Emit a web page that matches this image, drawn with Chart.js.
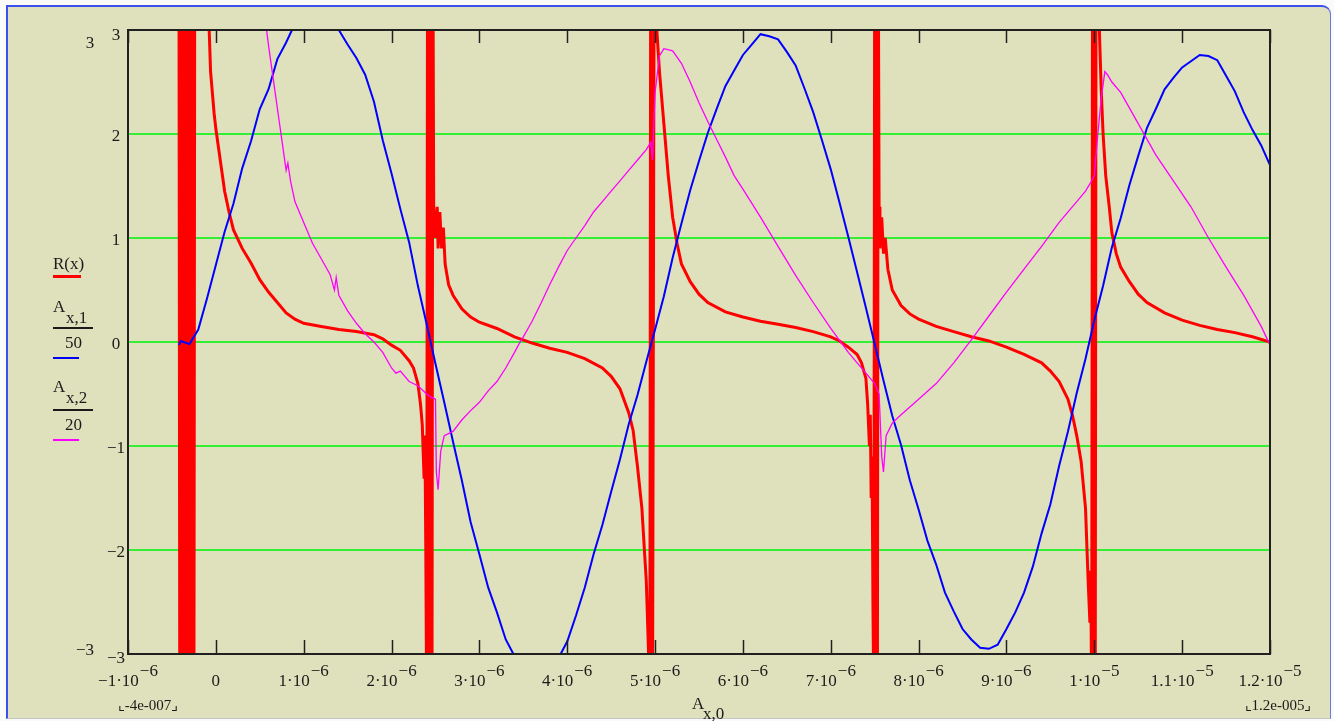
<!DOCTYPE html>
<html>
<head>
<meta charset="utf-8">
<script src="https://cdn.jsdelivr.net/npm/chart.js@4.4.1/dist/chart.umd.min.js"></script>
<style>
  body { margin: 0; background: #fafafa; width: 1334px; height: 721px; overflow: hidden; position: relative; }
  #frame { position: absolute; left: 6px; top: 5px; width: 1322px; height: 711px; background: #dfe0bc;
           border-left: 2px solid #3b4ff0; border-top: 2px solid #3b4ff0; border-right: 1px solid #6a78e6;
           border-bottom: 1px solid #c4c4c4; border-top-right-radius: 9px; }
  #wrap { position: absolute; left: 0; top: 0; width: 1334px; height: 721px; }
</style>
</head>
<body>
<div id="frame"></div>
<div id="wrap"><canvas id="plot" width="1334" height="721"></canvas></div>
<script>
// x values are in units of 10^-6
var xTickVals = [-1, 0, 1, 2, 3, 4, 5, 6, 7, 8, 9, 10, 11, 12];
var xTickText = ['\u22121\u00b710', '0', '1\u00b710', '2\u00b710', '3\u00b710', '4\u00b710', '5\u00b710', '6\u00b710', '7\u00b710', '8\u00b710', '9\u00b710', '1\u00b710', '1.1\u00b710', '1.2\u00b710'];
var xTickExp = ['\u22126', '', '\u22126', '\u22126', '\u22126', '\u22126', '\u22126', '\u22126', '\u22126', '\u22126', '\u22126', '\u22125', '\u22125', '\u22125'];
var yTickVals = [3, 2, 1, 0, -1, -2, -3];
var yTickText = ['3', '2', '1', '0', '\u22121', '\u22122', '\u22123'];

// R(x)
var rX = [-0.42, -0.41, -0.40, -0.39, -0.38, -0.37, -0.36, -0.35, -0.34, -0.33, -0.32, -0.31, -0.30, -0.29, -0.28, -0.27, -0.26, -0.25, -0.24, -0.23,
          -0.08, -0.06, -0.04, -0.02, 0, 0.05, 0.1, 0.15, 0.2, 0.3, 0.4, 0.5, 0.6, 0.7, 0.8, 0.9, 1.0, 1.2, 1.4, 1.6, 1.8, 1.9, 2.0, 2.1, 2.2, 2.25, 2.3, 2.33, 2.35, 2.37, 2.38, 2.39, 2.40,
          2.41, 2.42, 2.43, 2.44, 2.45, 2.46, 2.47,
          2.48, 2.50, 2.52, 2.53, 2.55, 2.57, 2.59, 2.61, 2.65, 2.7, 2.8, 2.9, 3.0, 3.2, 3.4, 3.6, 3.8, 4.0, 4.2, 4.4, 4.5, 4.6, 4.7, 4.75, 4.8, 4.85, 4.9, 4.93,
          4.94, 4.95, 4.97, 4.99,
          5.02, 5.05, 5.1, 5.15, 5.2, 5.25, 5.3, 5.4, 5.5, 5.6, 5.8, 6.0, 6.2, 6.4, 6.6, 6.8, 7.0, 7.1, 7.2, 7.3, 7.35, 7.4, 7.42, 7.44, 7.45, 7.46, 7.47, 7.48, 7.49,
          7.50, 7.51, 7.52, 7.53, 7.54,
          7.55, 7.56, 7.58, 7.6, 7.62, 7.65, 7.7, 7.8, 7.9, 8.0, 8.2, 8.4, 8.6, 8.8, 9.0, 9.2, 9.4, 9.5, 9.6, 9.7, 9.75, 9.8, 9.85, 9.9, 9.93, 9.95, 9.96, 9.97,
          9.98, 9.99, 10.0, 10.01, 10.02,
          10.05, 10.08, 10.1, 10.13, 10.17, 10.2, 10.25, 10.3, 10.4, 10.5, 10.6, 10.8, 11.0, 11.2, 11.4, 11.6, 11.8, 12.0];
var rY = [4, -4, 4, -4, 4, -4, 4, -4, 4, -4, 4, -4, 4, -4, 4, -4, 4, -4, 4, 4,
          3.1, 2.6, 2.4, 2.2, 2.05, 1.75, 1.45, 1.25, 1.08, 0.9, 0.76, 0.6, 0.48, 0.38, 0.28, 0.22, 0.18, 0.15, 0.12, 0.1, 0.07, 0.03, -0.03, -0.08, -0.18, -0.25, -0.4, -0.6, -0.8, -1.3, -0.9, -2.0, -3.5,
          4, -4, 4, -4, 4, -4, 4,
          1.3, 1.0, 1.3, 0.9, 1.25, 0.9, 1.1, 0.75, 0.55, 0.45, 0.32, 0.24, 0.19, 0.13, 0.05, -0.01, -0.06, -0.1, -0.16, -0.25, -0.33, -0.45, -0.68, -0.85, -1.2, -1.6, -2.3, -3.1,
          -4, 4, -4, 4,
          3.0, 2.6, 2.1, 1.6, 1.2, 0.95, 0.75, 0.58, 0.46, 0.38, 0.29, 0.24, 0.2, 0.17, 0.14, 0.1, 0.05, 0.01, -0.05, -0.12, -0.2, -0.35, -0.6, -1.0, -0.7, -1.5, -1.1, -2.5, -3.5,
          4, -4, 4, -4, 4,
          1.3, 0.9, 1.2, 0.85, 1.0, 0.7, 0.5, 0.35, 0.27, 0.22, 0.15, 0.1, 0.05, 0.01, -0.05, -0.12, -0.2, -0.28, -0.38, -0.55, -0.7, -0.9, -1.15, -1.6, -2.3, -2.7, -2.2, -3.5,
          4, -4, 4, -4, 4,
          3.2, 2.4, 2.0, 1.6, 1.3, 1.05, 0.85, 0.72, 0.58, 0.46, 0.38, 0.28, 0.21, 0.16, 0.12, 0.09, 0.05, 0.0];

// A(x,1)/50
var a1X = [-0.42, -0.4, -0.3, -0.2, -0.1, 0, 0.1, 0.2, 0.3, 0.4, 0.5, 0.6, 0.7, 0.8, 0.9, 1.0, 1.1, 1.2, 1.3, 1.4, 1.5, 1.6, 1.7, 1.8, 1.9,
           2.0, 2.1, 2.2, 2.3, 2.4, 2.5, 2.6, 2.7, 2.8, 2.9, 3.0, 3.1, 3.2, 3.3, 3.4, 3.5, 3.6, 3.7, 3.8, 3.9,
           4.0, 4.1, 4.2, 4.3, 4.4, 4.5, 4.6, 4.7, 4.8, 4.9, 5.0, 5.1, 5.2, 5.3, 5.4, 5.5, 5.6, 5.7, 5.8, 5.9,
           6.0, 6.1, 6.2, 6.3, 6.4, 6.5, 6.6, 6.7, 6.8, 6.9, 7.0, 7.1, 7.2, 7.3, 7.4, 7.5, 7.6, 7.7, 7.8, 7.9,
           8.0, 8.1, 8.2, 8.3, 8.4, 8.5, 8.6, 8.7, 8.8, 8.9, 9.0, 9.1, 9.2, 9.3, 9.4, 9.5, 9.6, 9.7, 9.8, 9.9,
           10.0, 10.1, 10.2, 10.3, 10.4, 10.5, 10.6, 10.7, 10.8, 10.9, 11.0, 11.1, 11.2, 11.3, 11.4, 11.5, 11.6, 11.7, 11.8, 11.9, 12.0];
var a1Y = [-0.03, 0.01, -0.02, 0.12, 0.42, 0.74, 1.06, 1.33, 1.67, 1.93, 2.24, 2.43, 2.72, 2.88, 3.06, 3.15, 3.2, 3.15, 3.06, 3.0, 2.86, 2.73, 2.57, 2.31, 1.94,
           1.62, 1.28, 0.96, 0.54, 0.17, -0.21, -0.58, -0.96, -1.33, -1.73, -2.04, -2.36, -2.6, -2.86, -3.02, -3.1, -3.15, -3.2, -3.15, -3.04,
           -2.88, -2.63, -2.36, -2.04, -1.76, -1.44, -1.13, -0.79, -0.51, -0.19, 0.12, 0.44, 0.81, 1.14, 1.46, 1.74, 2.01, 2.24, 2.46, 2.61,
           2.76, 2.86, 2.96, 2.94, 2.91, 2.79, 2.66, 2.44, 2.21, 1.94, 1.66, 1.34, 1.01, 0.67, 0.33, -0.02, -0.37, -0.71, -0.99, -1.33,
           -1.61, -1.91, -2.14, -2.41, -2.59, -2.76, -2.86, -2.94, -2.95, -2.91, -2.76, -2.6, -2.41, -2.16, -1.84, -1.56, -1.19, -0.86, -0.49, -0.16,
           0.21, 0.54, 0.91, 1.19, 1.51, 1.79, 2.06, 2.24, 2.43, 2.54, 2.64, 2.7, 2.76, 2.75, 2.71, 2.56, 2.41, 2.21, 2.04, 1.89, 1.7];

// A(x,2)/20
var a2X = [0.57, 0.6, 0.65, 0.7, 0.75, 0.8, 0.82, 0.85, 0.9, 1.0, 1.1, 1.2, 1.3, 1.35, 1.37, 1.4, 1.5, 1.6, 1.7, 1.8, 1.9, 2.0, 2.05, 2.1, 2.2, 2.3, 2.4, 2.43,
           2.5, 2.51, 2.53, 2.56, 2.6, 2.7, 2.8, 2.9, 3.0, 3.1, 3.2, 3.3, 3.4, 3.45, 3.5, 3.6, 3.7, 3.8, 3.9, 4.0, 4.1, 4.2, 4.3, 4.4, 4.5, 4.6, 4.7, 4.8, 4.9, 4.95, 4.97,
           5.0, 5.05, 5.1, 5.2, 5.3, 5.4, 5.5, 5.6, 5.7, 5.8, 5.9, 6.0, 6.2, 6.4, 6.6, 6.8, 7.0, 7.2, 7.3, 7.4, 7.5, 7.55, 7.58, 7.6, 7.63, 7.7, 7.8,
           8.0, 8.2, 8.4, 8.6, 8.8, 9.0, 9.2, 9.4, 9.6, 9.8, 9.9, 9.97, 10.0, 10.04, 10.08, 10.12, 10.15, 10.2, 10.3, 10.5, 10.7, 10.9, 11.1, 11.3, 11.5, 11.7, 11.9, 12.0];
var a2Y = [3.05, 2.85, 2.55, 2.25, 1.95, 1.65, 1.72, 1.55, 1.35, 1.15, 0.95, 0.8, 0.65, 0.5, 0.62, 0.45, 0.3, 0.18, 0.08, 0.0, -0.1, -0.25, -0.3, -0.28, -0.38, -0.42, -0.5, -0.52,
           -0.55, -1.25, -1.42, -1.05, -0.9, -0.86, -0.75, -0.66, -0.58, -0.47, -0.38, -0.25, -0.1, -0.02, 0.05, 0.2, 0.37, 0.55, 0.72, 0.88, 1.0, 1.12, 1.25, 1.35, 1.45, 1.55, 1.65, 1.75, 1.85, 1.92, 1.75,
           2.4, 2.75, 2.82, 2.8, 2.68, 2.5, 2.3, 2.12, 1.95, 1.78, 1.6, 1.47, 1.2, 0.92, 0.64, 0.38, 0.13, -0.1, -0.2, -0.3, -0.4, -0.5, -1.1, -1.25, -0.9, -0.78, -0.7,
           -0.55, -0.4, -0.2, 0.02, 0.25, 0.48, 0.7, 0.92, 1.15, 1.35, 1.45, 1.55, 1.6, 2.0, 2.35, 2.6, 2.57, 2.5, 2.4, 2.1, 1.8, 1.55, 1.3, 1.0, 0.72, 0.45, 0.15, -0.03];

function pts(xs, ys) {
    return xs.map(function(x, i) { return { x: x, y: ys[i] }; });
}

var serif = '"Liberation Serif", "DejaVu Serif", serif';

var mathcadLook = {
    id: 'mathcadLook',
    afterDatasetsDraw: function(chart) {
        var ctx = chart.ctx, a = chart.chartArea, sx = chart.scales.x;
        ctx.save();
        ctx.strokeStyle = '#202020';
        ctx.lineWidth = 2;
        ctx.strokeRect(a.left, a.top, a.right - a.left, a.bottom - a.top);
        ctx.lineWidth = 1.5;
        xTickVals.forEach(function(v) {
            var px = Math.round(sx.getPixelForValue(v)) + 0.5;
            ctx.beginPath();
            ctx.moveTo(px, a.bottom); ctx.lineTo(px, a.bottom - 14);
            ctx.moveTo(px, a.top); ctx.lineTo(px, a.top + 13);
            ctx.stroke();
        });
        ctx.restore();
    },
    afterDraw: function(chart) {
        var ctx = chart.ctx, a = chart.chartArea, sx = chart.scales.x, sy = chart.scales.y;
        ctx.save();
        ctx.fillStyle = '#1a1a1a';
        ctx.font = '17px ' + serif;
        ctx.textBaseline = 'alphabetic';

        // x tick labels
        xTickVals.forEach(function(v, i) {
            var px = sx.getPixelForValue(v);
            var m = xTickText[i], e = xTickExp[i];
            var wm = ctx.measureText(m).width, we = e ? ctx.measureText(e).width + 1 : 0;
            var left = px - (wm + we) / 2;
            ctx.textAlign = 'left';
            ctx.fillText(m, left, 686);
            if (e) ctx.fillText(e, left + wm + 1, 676);
        });

        // y tick labels
        ctx.textAlign = 'center';
        yTickVals.forEach(function(v, i) {
            var py = sy.getPixelForValue(v);
            if (v === 3) py = a.top + 3;
            if (v === -3) py = a.bottom + 2;
            ctx.fillText(yTickText[i], 116, py + 7);
        });
        // axis limit labels
        ctx.fillText('3', 90, a.top + 18);
        ctx.fillText('\u22123', 85, a.bottom + 1);

        // x range markers and title
        ctx.font = '15px ' + serif;
        ctx.textAlign = 'center';
        ctx.fillText('\u231e-4e-007\u231f', 148, 710);
        ctx.fillText('\u231e1.2e-005\u231f', 1278, 710);
        ctx.font = '17px ' + serif;
        ctx.textAlign = 'left';
        ctx.fillText('A', 692, 709);
        ctx.fillText('x,0', 703, 719);

        // trace legend
        ctx.fillText('R(x)', 53, 269);
        ctx.fillStyle = '#ff0000';
        ctx.fillRect(53, 275, 28, 3);
        ctx.fillStyle = '#1a1a1a';
        ctx.fillText('A', 53, 312);
        ctx.fillText('x,1', 66, 323);
        ctx.fillRect(53, 327, 40, 2);
        ctx.fillText('50', 65, 348);
        ctx.fillStyle = '#0000ff';
        ctx.fillRect(53, 357, 26, 2);
        ctx.fillStyle = '#1a1a1a';
        ctx.fillText('A', 53, 392);
        ctx.fillText('x,2', 66, 403);
        ctx.fillRect(53, 409, 40, 2);
        ctx.fillText('20', 65, 430);
        ctx.fillStyle = '#ff00ff';
        ctx.fillRect(53, 439, 26, 2);
        ctx.restore();
    }
};

var chart = new Chart(document.getElementById('plot').getContext('2d'), {
    type: 'scatter',
    data: {
        datasets: [
            { label: 'A(x,2)/20', data: pts(a2X, a2Y), showLine: true, borderColor: '#ff00ff', borderWidth: 1.3, pointRadius: 0, clip: 0, order: 0 },
            { label: 'A(x,1)/50', data: pts(a1X, a1Y), showLine: true, borderColor: '#0000ff', borderWidth: 2, pointRadius: 0, clip: 0, order: 1 },
            { label: 'R(x)', data: pts(rX, rY), showLine: true, borderColor: '#ff0000', borderWidth: 3, pointRadius: 0, clip: 0, order: 2 }
        ]
    },
    options: {
        responsive: false,
        animation: false,
        devicePixelRatio: 1,
        layout: { padding: { left: 128, right: 64, top: 30, bottom: 67 } },
        plugins: { legend: { display: false }, tooltip: { enabled: false } },
        scales: {
            x: { type: 'linear', min: -1, max: 12, display: false },
            y: {
                min: -3, max: 3,
                ticks: { display: false, stepSize: 1 },
                border: { display: false },
                grid: {
                    drawTicks: false,
                    lineWidth: 2,
                    color: function(c) { return (c.tick.value === 3 || c.tick.value === -3) ? 'rgba(0,0,0,0)' : '#33ee33'; }
                }
            }
        }
    },
    plugins: [mathcadLook]
});
</script>
</body>
</html>
